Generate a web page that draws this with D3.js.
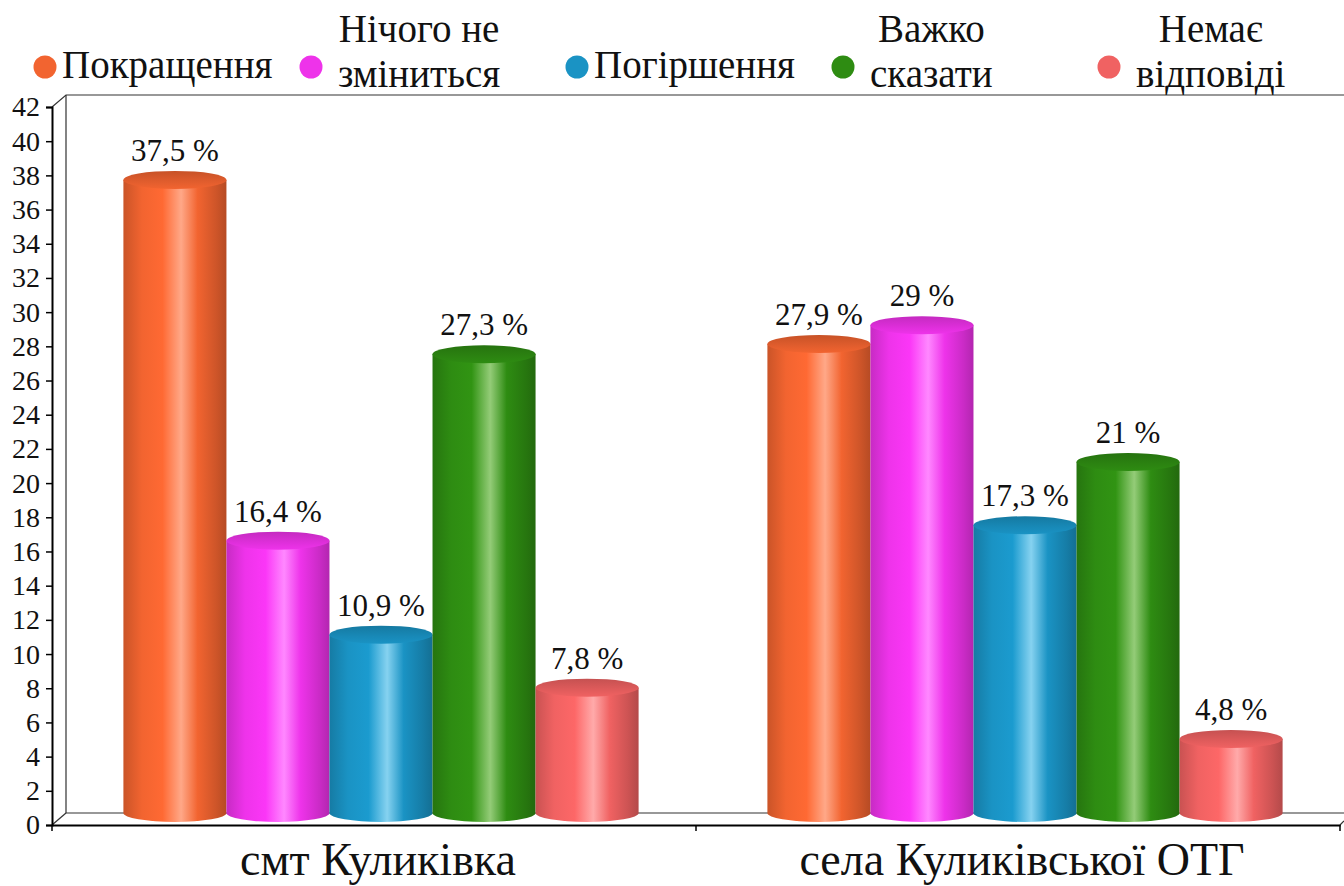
<!DOCTYPE html>
<html>
<head>
<meta charset="utf-8">
<script src="https://cdnjs.cloudflare.com/ajax/libs/d3/7.8.5/d3.min.js"></script>
</head>
<body style="margin:0">
<svg id="chart" width="1344" height="886" style="display:block;font-family:'Liberation Serif'"></svg>
<script>
// data
var categories = ["смт Куликівка", "села Куликівської ОТГ"];
var series = ["Покращення", "Нічого не зміниться", "Погіршення", "Важко сказати", "Немає відповіді"];
var legendLines = [["Покращення"], ["Нічого не", "зміниться"], ["Погіршення"], ["Важко", "сказати"], ["Немає", "відповіді"]];
var valuesKulykivka = [37.5, 16.4, 10.9, 27.3, 7.8];
var valuesVillages = [27.9, 29, 17.3, 21, 4.8];
var yTicks = d3.range(0, 43, 2);

var seriesColors = ["#f26430", "#ee33ea", "#1a93c4", "#2e8c12", "#f06262"];
var seriesLight = ["#ffa888", "#ff88ff", "#86d2f0", "#94cc78", "#ffaaaa"];

var fontName = "'Liberation Serif'";
var svg = d3.select("#chart");

var xLeft = 52, xRight = 1340,
    yBottom = 825, yTop = 107,
    depthX = 14, depthY = 12;

var y = d3.scaleLinear().domain([0, 42]).range([yBottom, yTop]);
var x0 = d3.scaleBand().domain(categories).range([xLeft, xRight]);
var x1 = d3.scaleBand().domain(series)
  .range([x0.bandwidth() * 0.1, x0.bandwidth() * 0.9]);

var rows = [];
categories.forEach(function(c, ci){
  var vals = ci == 0 ? valuesKulykivka : valuesVillages;
  series.forEach(function(s, si){
    rows.push({cat: c, s: s, i: si, v: vals[si]});
  });
});

// gradients
var defs = svg.append("defs");
series.forEach(function(s, i){
  var base = d3.color(seriesColors[i]);
  var body = defs.append("linearGradient").attr("id", "body" + i)
    .attr("x1", "0%").attr("x2", "100%").attr("y1", "0%").attr("y2", "0%");
  [[0, base.darker(0.5)], [0.18, base], [0.38, base.brighter(0.15)], [0.56, seriesLight[i]],
   [0.72, base], [0.9, base.darker(0.45)], [1, base.darker(0.8)]].forEach(function(st){
    body.append("stop").attr("offset", st[0]).attr("stop-color", st[1]);
  });
  var cap = defs.append("linearGradient").attr("id", "cap" + i)
    .attr("x1", "0%").attr("x2", "0%").attr("y1", "0%").attr("y2", "100%");
  [[0, base.darker(0.55)], [0.6, base.darker(0.2)], [1, base]].forEach(function(st){
    cap.append("stop").attr("offset", st[0]).attr("stop-color", st[1]);
  });
});

// 3d frame
var frame = svg.append("g").attr("stroke", "#333").attr("stroke-width", 1.2).attr("fill", "none");
frame.append("path").attr("d",
  "M" + xLeft + "," + y(42) + "L" + (xLeft + depthX) + "," + (y(42) - depthY) +
  "L1344," + (y(42) - depthY));
frame.append("path").attr("d",
  "M" + (xLeft + depthX) + "," + (y(42) - depthY) + "L" + (xLeft + depthX) + "," + (y(0) - depthY) +
  "L1344," + (y(0) - depthY));
frame.append("path").attr("d",
  "M" + xLeft + "," + y(0) + "L" + (xLeft + depthX) + "," + (y(0) - depthY));
frame.append("path").attr("d",
  "M" + xRight + "," + y(0) + "L1344," + (y(0) - 4));

// cylinders
var rx = x1.bandwidth() / 2, ry = 9;
var bars = svg.append("g").selectAll("g").data(rows).enter().append("g");

bars.each(function(d){
  var g = d3.select(this);
  var cx = x0(d.cat) + x1(d.s) + rx + depthX / 2;
  var yt = y(d.v) - 4;
  var yb = y(0) - depthY;
  g.append("path")
    .attr("d", "M" + (cx - rx) + "," + yt + "L" + (cx - rx) + "," + yb +
      "A" + rx + "," + ry + " 0 0 0 " + (cx + rx) + "," + yb +
      "L" + (cx + rx) + "," + yt + "Z")
    .attr("fill", "url(#body" + d.i + ")");
  g.append("ellipse")
    .attr("cx", cx).attr("cy", yt).attr("rx", rx).attr("ry", ry)
    .attr("fill", "url(#cap" + d.i + ")");
  g.append("text")
    .attr("x", cx).attr("y", y(d.v) - 23)
    .attr("text-anchor", "middle")
    .style("font-size", "31px")
    .attr("fill", "#111")
    .text(String(d.v).replace(".", ",") + " %");
});

// y axis
var yAxis = svg.append("g").attr("transform", "translate(" + xLeft + ",0)")
  .call(d3.axisLeft(y).tickValues(yTicks).tickSize(6).tickPadding(6).tickFormat(d3.format("d")));
yAxis.attr("font-family", null).style("font-family", fontName);
yAxis.select(".domain").attr("stroke", "#000").attr("stroke-width", 2);
yAxis.selectAll(".tick line").attr("stroke", "#000").attr("stroke-width", 1.5);
yAxis.selectAll("text").style("font-size", "28px").attr("fill", "#111");

// x axis
var xAxis = svg.append("g").attr("transform", "translate(0," + yBottom + ")")
  .call(d3.axisBottom(x0).tickSize(0).tickPadding(50));
xAxis.attr("font-family", null).style("font-family", fontName);
xAxis.select(".domain").attr("stroke", "#000").attr("stroke-width", 2);
xAxis.selectAll("text").style("font-size", "46px")
  .attr("fill", "#111").attr("dx", 4).attr("dy", 0);
[xLeft, (xLeft + xRight) / 2, xRight].forEach(function(t){
  xAxis.append("line").attr("x1", t).attr("x2", t).attr("y1", 0).attr("y2", 6)
    .attr("stroke", "#000").attr("stroke-width", 1.5);
});

// legend (text widths from a canvas so the svg is not laid out early)
var ctx = document.createElement("canvas").getContext("2d");
ctx.font = "39px " + fontName;

var legend = svg.append("g").selectAll("g").data(series).enter().append("g")
  .attr("transform", function(d, i){ return "translate(" + (45 + i * 266) + ",67)"; });
legend.append("circle").attr("r", 11.5)
  .attr("fill", function(d, i){ return seriesColors[i]; });
legend.each(function(d, i){
  var g = d3.select(this);
  var lines = legendLines[i];
  if (lines.length == 1) {
    g.append("text").attr("x", 17).attr("y", 11)
      .style("font-size", "39px").attr("fill", "#111").text(lines[0]);
  } else {
    var w = d3.max(lines, function(l){ return ctx.measureText(l).width; });
    var t = g.append("text").style("font-size", "39px")
      .attr("fill", "#111").attr("text-anchor", "middle");
    t.append("tspan").attr("x", 27 + w / 2).attr("y", -25).text(lines[0]);
    t.append("tspan").attr("x", 27 + w / 2).attr("y", 20).text(lines[1]);
  }
});
</script>
</body>
</html>
